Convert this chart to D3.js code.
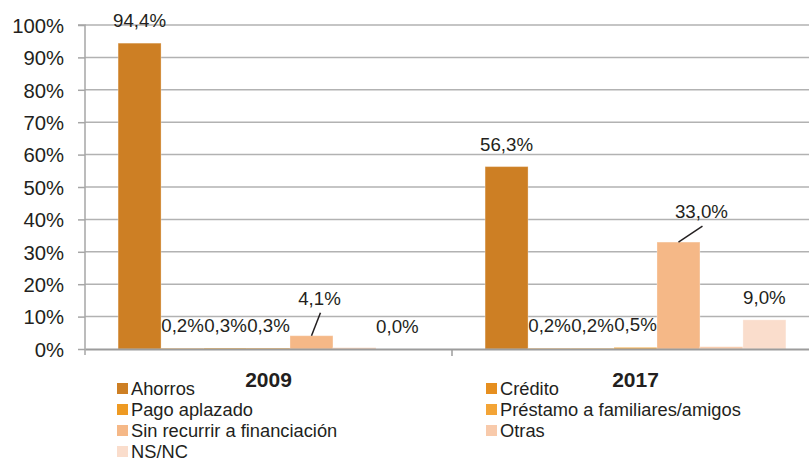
<!DOCTYPE html>
<html>
<head>
<meta charset="utf-8">
<script src="https://cdn.jsdelivr.net/npm/d3@7/dist/d3.min.js"></script>
<style>
  html, body { margin: 0; padding: 0; background: #fff; }
  svg { display: block; font-family: "Liberation Sans", Arial, Helvetica, sans-serif; }
</style>
</head>
<body>
<svg id="chart" width="809" height="459"></svg>
<script>
// Years compared
const years = ["2009", "2017"];
// Ways of paying for the purchase
const series = ["Ahorros", "Crédito", "Pago aplazado", "Préstamo a familiares/amigos",
                "Sin recurrir a financiación", "Otras", "NS/NC"];
// Share (%) per series, one value per year
const values2009 = [94.4, 0.2, 0.3, 0.3, 4.1, 0.4, 0.0];
const values2017 = [56.3, 0.2, 0.2, 0.5, 33.0, 0.7, 9.0];
// Which values carry a printed label (Otras has none)
const labelled = [true, true, true, true, true, false, true];
const yTicks = [0, 10, 20, 30, 40, 50, 60, 70, 80, 90, 100];
const colors = ["#CD7F24", "#E68F1F", "#EE9A23", "#F3A436", "#F5B887", "#F8CAAB", "#FADDCC"];

const rows = [];
years.forEach((yr, i) => {
  const vals = i === 0 ? values2009 : values2017;
  series.forEach((s, j) => rows.push({ year: yr, series: s, idx: j, value: vals[j] }));
});

// Labels that were pulled aside and tied back to their bar with a leader line
const nudged = {
  "2009|Sin recurrir a financiación": { dx: 8, dy: -15 },
  "2017|Sin recurrir a financiación": { dx: 23, dy: -8 }
};

const svg = d3.select("#chart");
const plotL = 85, plotR = 819, plotT = 25, plotB = 349;

const x0 = d3.scaleBand().domain(years).range([plotL, plotR]).padding(0);
const x1 = d3.scaleBand().domain(series).range([0, x0.bandwidth()])
  .paddingInner(0).paddingOuter(0.77);
const y = d3.scaleLinear().domain([0, 100]).range([plotB, plotT]);

// Horizontal gridlines
svg.append("g").selectAll("line").data(yTicks.filter(d => d > 0)).join("line")
  .attr("x1", plotL).attr("x2", plotR)
  .attr("y1", d => y(d)).attr("y2", d => y(d))
  .attr("stroke", "#B2B2B2").attr("stroke-width", 1.5);

// Y axis
const yAxis = d3.axisLeft(y).tickValues(yTicks).tickFormat(d => d + "%").tickSize(7).tickPadding(14);
const gy = svg.append("g").attr("transform", `translate(${plotL},0)`).call(yAxis);
gy.select(".domain").attr("stroke", "#A6A6A6").attr("stroke-width", 1.5)
  .attr("d", `M-7,${plotT}H0V${plotB + 6}`);
gy.selectAll(".tick line").attr("stroke", "#A6A6A6").attr("stroke-width", 1.5);
gy.selectAll(".tick text").attr("fill", "#231F20").style("font-size", "20.3px")
  .attr("dy", "0.36em");

// Bars
const gBars = svg.append("g");
gBars.selectAll("rect").data(rows).join("rect")
  .attr("x", d => x0(d.year) + x1(d.series))
  .attr("width", x1.bandwidth())
  .attr("y", d => y(d.value))
  .attr("height", d => plotB - y(d.value))
  .attr("fill", d => colors[d.idx])
  .attr("stroke", "#fff").attr("stroke-opacity", 0.3).attr("stroke-width", 1);

// X axis baseline and category separators
const xAxis = d3.axisBottom(x0).tickSize(0).tickFormat("");
const gx = svg.append("g").attr("transform", `translate(0,${plotB})`).call(xAxis);
gx.select(".domain").attr("stroke", "#9C9C9C").attr("stroke-width", 2);
gx.selectAll(".tick").remove();
gx.selectAll("line.sep").data(years.slice(1)).join("line").attr("class", "sep")
  .attr("x1", d => x0(d)).attr("x2", d => x0(d)).attr("y1", 0).attr("y2", 7)
  .attr("stroke", "#9C9C9C").attr("stroke-width", 1.5);
gx.selectAll("text.cat").data(years).join("text").attr("class", "cat")
  .attr("x", d => x0(d) + x0.bandwidth() / 2).attr("y", 38)
  .attr("text-anchor", "middle").attr("fill", "#231F20")
  .style("font-size", "21px").style("font-weight", "bold").text(d => d);

// Value labels
const fmt = v => v.toFixed(1).replace(".", ",") + "%";
const lab = rows.filter(d => labelled[d.idx]);
const gLab = svg.append("g");
lab.forEach(d => {
  const cx = x0(d.year) + x1(d.series) + x1.bandwidth() / 2;
  const by = y(d.value) - 16;
  const n = nudged[d.year + "|" + d.series];
  const lx = cx + (n ? n.dx : 0), ly = by + (n ? n.dy : 0);
  if (n) {
    gLab.append("line")
      .attr("x1", cx).attr("y1", y(d.value))
      .attr("x2", lx + 1).attr("y2", ly + 8)
      .attr("stroke", "#231F20").attr("stroke-width", 1.5);
  }
  gLab.append("text").attr("x", lx).attr("y", ly)
    .attr("text-anchor", "middle").attr("fill", "#231F20")
    .style("font-size", "18.7px").text(fmt(d.value));
});

// Legend, two columns filled row by row
const legX = [117, 486], legY0 = 389, legDy = 21;
const gLeg = svg.append("g");
series.forEach((s, i) => {
  const col = i % 2, row = Math.floor(i / 2);
  const g = gLeg.append("g").attr("transform", `translate(${legX[col]},${legY0 + row * legDy})`);
  g.append("rect").attr("x", 0).attr("y", -6).attr("width", 11).attr("height", 11).attr("fill", colors[i]);
  g.append("text").attr("x", 14).attr("y", 0).attr("dy", "0.35em")
    .attr("fill", "#231F20").style("font-size", "18.3px").text(s);
});
</script>
</body>
</html>
